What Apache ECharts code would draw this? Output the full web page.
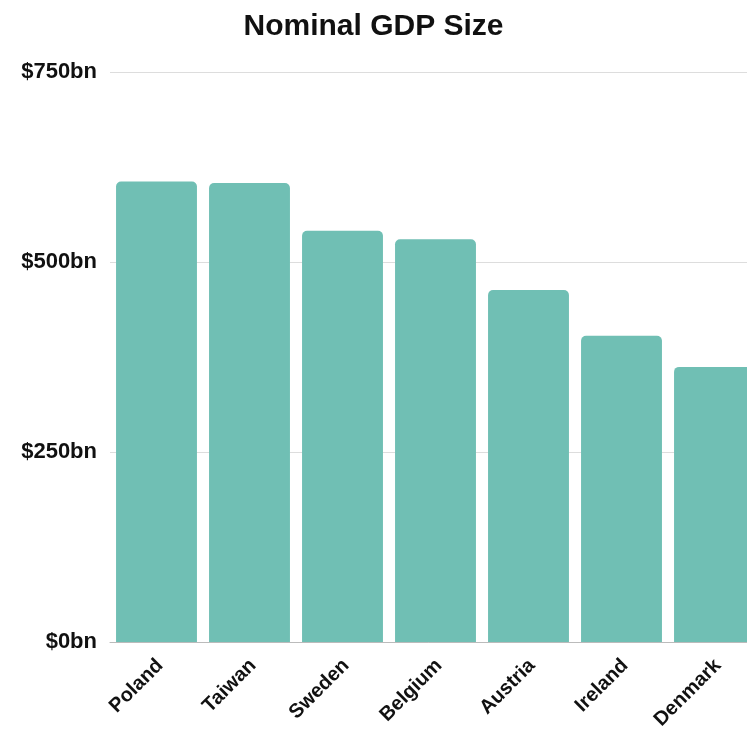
<!DOCTYPE html>
<html>
<head>
<meta charset="utf-8">
<script src="https://cdn.jsdelivr.net/npm/echarts@6/dist/echarts.min.js"></script>
<style>
  html, body { margin: 0; padding: 0; background: #fff; }
  #chart { width: 747px; height: 746px; }
</style>
</head>
<body>
<div id="chart"></div>
<script>
// country names and nominal GDP in $bn
const countries = ['Poland', 'Taiwan', 'Sweden', 'Belgium', 'Austria', 'Ireland', 'Denmark']
const gdp = [606, 604, 541, 530, 463, 403, 362]
const yTicks = [0, 250, 500, 750]

const chart = echarts.init(document.getElementById('chart'))

const option = {
  title: {
    text: 'Nominal GDP Size',
    left: 'center',
    top: 7,
    textStyle: {
      fontFamily: 'Liberation Sans',
      fontSize: 30,
      fontWeight: 'bold',
      color: '#111'
    }
  },
  grid: {
    left: 110,
    top: 72,
    bottom: 104,
    right: -14,
    outerBoundsMode: 'none'
  },
  xAxis: {
    type: 'category',
    data: countries,
    axisLine: { lineStyle: { color: '#bbb' } },
    axisTick: { show: false },
    axisLabel: {
      rotate: 45,
      margin: 24,
      padding: [21, -5, 0, 0],
      color: '#111',
      fontFamily: 'Liberation Sans',
      fontWeight: 'bold',
      fontSize: 20
    }
  },
  yAxis: {
    type: 'value',
    min: yTicks[0],
    max: yTicks[yTicks.length - 1],
    interval: 250,
    splitLine: { lineStyle: { color: '#ddd' } },
    axisLabel: {
      margin: 13,
      color: '#111',
      fontFamily: 'Liberation Sans',
      fontWeight: 'bold',
      fontSize: 22,
      formatter: v => '$' + v + 'bn'
    }
  },
  series: [{
    type: 'bar',
    data: gdp,
    barWidth: '87%',
    itemStyle: {
      color: '#70bfb4',
      borderRadius: [5, 5, 0, 0]
    }
  }]
}

chart.setOption(option)
</script>
</body>
</html>
